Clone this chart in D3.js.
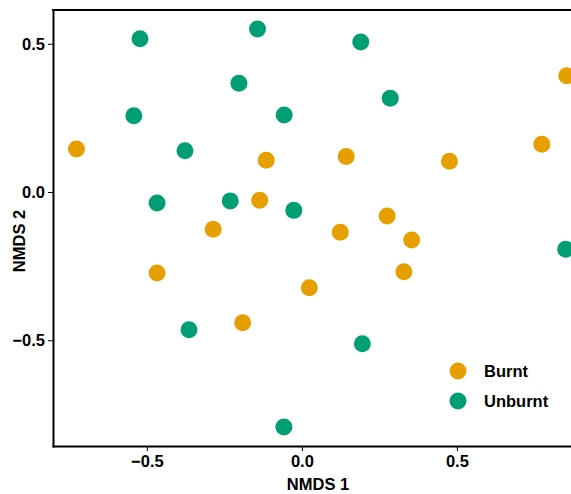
<!DOCTYPE html>
<html>
<head>
<meta charset="utf-8">
<script src="https://cdn.jsdelivr.net/npm/d3@7"></script>
<style>
  body { margin: 0; background: #fff; }
  svg text { font-family: "Liberation Sans", Arial, sans-serif; font-weight: bold; fill: #000; }
</style>
</head>
<body>
<div id="chart"></div>
<script>
// NMDS ordination, burnt vs unburnt sites

let groups = ["Burnt", "Unburnt"];
let groupColors = ["#E69F00", "#009E73"];

let burntX = [-0.727, -0.115, 0.143, 0.476, 0.774, 0.854, -0.136, -0.286, 0.124, 0.275, 0.354, -0.467, 0.024, 0.329, -0.191];
let burntY = [0.145, 0.107, 0.120, 0.104, 0.161, 0.392, -0.028, -0.126, -0.136, -0.081, -0.162, -0.273, -0.323, -0.269, -0.441];

let unburntX = [-0.522, -0.143, 0.190, -0.203, 0.285, -0.542, -0.057, -0.377, -0.467, -0.231, -0.026, 0.851, -0.364, 0.195, -0.058];
let unburntY = [0.517, 0.550, 0.506, 0.367, 0.316, 0.257, 0.260, 0.139, -0.037, -0.030, -0.062, -0.193, -0.465, -0.512, -0.793];

let xTicks = [-0.5, 0.0, 0.5];
let yTicks = [-0.5, 0.0, 0.5];

let width = 571, height = 494;
let margin = {top: 10, right: -12, bottom: 48, left: 53};

let x = d3.scaleLinear()
          .domain([-0.8027, 0.9068])
          .range([margin.left, width - margin.right]);

let y = d3.scaleLinear()
          .domain([-0.8567, 0.6138])
          .range([height - margin.bottom, margin.top]);

let svg = d3.select("#chart")
            .append("svg")
            .attr("width", width)
            .attr("height", height);

let data = [];
for (let i = 0; i < burntX.length; i++) data.push({x: burntX[i], y: burntY[i], g: 0});
for (let i = 0; i < unburntX.length; i++) data.push({x: unburntX[i], y: unburntY[i], g: 1});

// panel top border
svg.append("line")
   .attr("x1", margin.left - 1).attr("x2", width - margin.right)
   .attr("y1", margin.top).attr("y2", margin.top)
   .attr("stroke", "#000").attr("stroke-width", 2);

let fmt = d3.format(".1f");
let minus = function(d) { return fmt(d).replace("-", "\u2212"); };

let xAxis = svg.append("g")
   .attr("transform", "translate(0," + (height - margin.bottom) + ")")
   .call(d3.axisBottom(x).tickValues(xTicks).tickFormat(minus)
           .tickSize(5).tickSizeOuter(0).tickPadding(4));

let yAxis = svg.append("g")
   .attr("transform", "translate(" + margin.left + ",0)")
   .call(d3.axisLeft(y).tickValues(yTicks).tickFormat(minus)
           .tickSize(5).tickSizeOuter(0).tickPadding(3));

[xAxis, yAxis].forEach(function(a) {
  a.select(".domain").attr("stroke", "#000").attr("stroke-width", 2).attr("stroke-linecap", "square");
  a.selectAll(".tick line").attr("stroke", "#000").attr("stroke-width", 1);
  a.selectAll(".tick text").attr("font-size", 16.5).attr("font-family", null).attr("fill", "#000");
});

svg.selectAll("circle.dot")
   .data(data)
   .enter().append("circle")
   .attr("class", "dot")
   .attr("r", 8.5)
   .attr("cx", function(d) { return x(d.x); })
   .attr("cy", function(d) { return y(d.y); })
   .attr("fill", function(d) { return groupColors[d.g]; });

// axis titles
svg.append("text")
   .attr("x", 318).attr("y", 490)
   .attr("text-anchor", "middle")
   .attr("font-size", 16.5)
   .text("NMDS 1");

svg.append("text")
   .attr("transform", "translate(25,241) rotate(-90)")
   .attr("text-anchor", "middle")
   .attr("font-size", 16.5)
   .text("NMDS 2");

// legend
let legend = svg.append("g").attr("transform", "translate(458,371)");
groups.forEach(function(g, i) {
  legend.append("circle")
        .attr("cx", 0).attr("cy", i * 30)
        .attr("r", 8.5)
        .attr("fill", groupColors[i]);
  legend.append("text")
        .attr("x", 26).attr("y", i * 30)
        .attr("dy", "0.35em")
        .attr("font-size", 16.5)
        .text(g);
});
</script>
</body>
</html>
